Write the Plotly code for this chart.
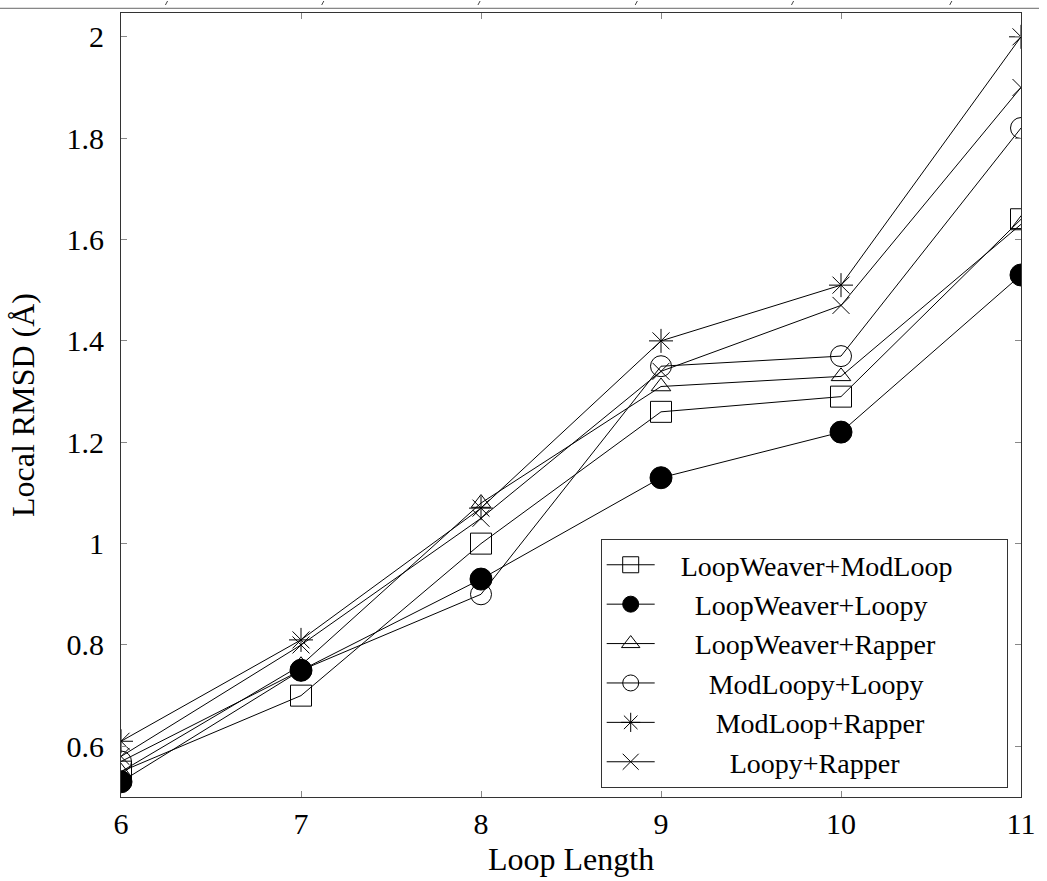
import plotly.graph_objects as go

loop_length = [6, 7, 8, 9, 10, 11]
lw_modloop = [0.55, 0.70, 1.00, 1.26, 1.29, 1.64]
lw_loopy = [0.53, 0.75, 0.93, 1.13, 1.22, 1.53]
lw_rapper = [0.55, 0.76, 1.08, 1.31, 1.33, 1.63]
modloopy_loopy = [0.57, 0.75, 0.90, 1.35, 1.37, 1.82]
modloop_rapper = [0.61, 0.81, 1.07, 1.40, 1.51, 2.00]
loopy_rapper = [0.58, 0.80, 1.05, 1.34, 1.47, 1.90]

series_names = ["LoopWeaver+ModLoop", "LoopWeaver+Loopy", "LoopWeaver+Rapper",
                "ModLoopy+Loopy", "ModLoop+Rapper", "Loopy+Rapper"]
series_values = [lw_modloop, lw_loopy, lw_rapper, modloopy_loopy, modloop_rapper, loopy_rapper]
symbols = ["square-open", "circle", "triangle-up-open", "circle-open", "asterisk-open", "x-thin-open"]
sizes = [21, 22, 17, 21, 20, 17]
# legend labels are centred in the reference: pad with no-break spaces
legend_pad = [3, 5, 5, 7, 8, 10]

FONT = "Liberation Serif"
NB = "\u00a0"

fig = go.Figure()
for name, vals, sym, sz, pad in zip(series_names, series_values, symbols, sizes, legend_pad):
    fig.add_trace(go.Scatter(
        x=loop_length, y=vals, name=NB * pad + name + NB * 7, mode="lines+markers",
        line=dict(color="black", width=1),
        marker=dict(symbol=sym, size=sz, color="black",
                    line=dict(color="black", width=1)),
    ))

axis_common = dict(
    showline=True, linecolor="#333", linewidth=1, mirror="allticks",
    ticks="inside", ticklen=6, tickcolor="#888", tickwidth=1,
    showgrid=False, zeroline=False,
    tickfont=dict(family=FONT, size=30, color="black"),
)

fig.update_xaxes(range=[6, 11], tickvals=loop_length, ticktext=[str(v) for v in loop_length],
                 **axis_common)
fig.update_yaxes(range=[0.5, 2.047], tickvals=[0.6, 0.8, 1.0, 1.2, 1.4, 1.6, 1.8, 2.0],
                 ticktext=["0.6", "0.8", "1", "1.2", "1.4", "1.6", "1.8", "2"],
                 ticklabelstandoff=10,
                 title=dict(text="Local RMSD (Å)", font=dict(family=FONT, size=32, color="black"), standoff=22),
                 **axis_common)

# x-axis title placed as an annotation so it stays inside the page
fig.add_annotation(text="Loop Length", xref="paper", yref="paper", x=0.5, y=-0.1035,
                   xanchor="center", yanchor="bottom", showarrow=False, borderpad=0,
                   font=dict(family=FONT, size=32, color="black"))

# remnant of the page edge above the chart (a rule with small slanted marks)
shapes = [dict(type="line", xref="paper", yref="paper", x0=-0.14, x1=1.02, y0=1.006, y1=1.006,
               line=dict(color="#666", width=1))]
for px in [167, 325, 483, 642, 800, 960]:
    xp = (px - 121) / 910
    shapes.append(dict(type="line", xref="paper", yref="paper",
                       x0=xp - 0.0012, x1=xp + 0.0012, y0=1.0102, y1=1.0153,
                       line=dict(color="#444", width=1)))

fig.update_layout(
    width=1047, height=881,
    margin=dict(l=121, r=16, t=12, b=84),
    paper_bgcolor="white", plot_bgcolor="white",
    font=dict(family=FONT, color="black"),
    shapes=shapes,
    legend=dict(x=0.533, y=0.329, xanchor="left", yanchor="top",
                bordercolor="#333", borderwidth=1, bgcolor="white",
                font=dict(family=FONT, size=28, color="black"),
                itemwidth=48, tracegroupgap=0),
)

fig.write_html("out.html", config={"displayModeBar": False},
               post_script="document.body.style.margin='0';document.body.style.overflow='hidden';")
